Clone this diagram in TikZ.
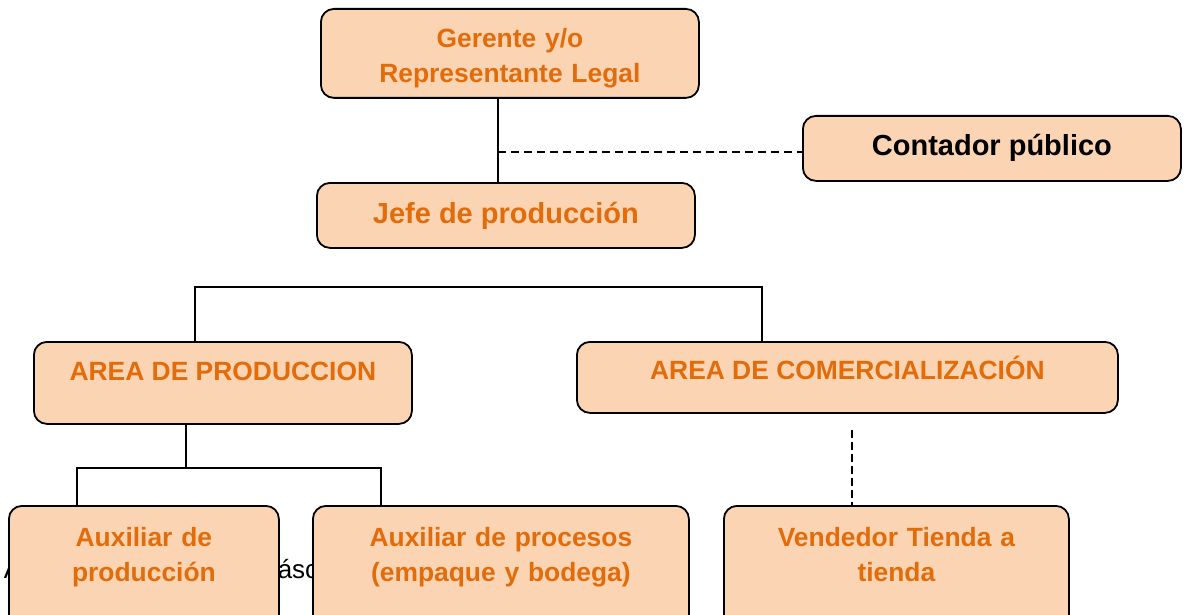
\documentclass[tikz,border=0pt]{standalone}
\usepackage{fontspec}
\setmainfont{Liberation Sans}
\usetikzlibrary{positioning}
\definecolor{boxfill}{HTML}{FBD4B4}
\definecolor{boxtext}{HTML}{E36C0A}
\begin{document}
\begin{tikzpicture}[x=1pt,y=-1pt,line width=1.5pt]
        \tikzset{
            mybox/.style={
                    draw,
                    fill=boxfill,
                    line width=1.8pt,
                    rounded corners=13pt,
                    inner sep=0pt,
                    anchor=north west,
                    align=center,
                    text=boxtext,
                    font=\fontsize{26.4}{35}\selectfont\bfseries
                },
            backtext/.style={
                    anchor=base west,
                    inner sep=0pt,
                    font=\fontsize{26}{30}\selectfont
                }
        }
        \useasboundingbox (0,0) rectangle (1188,615);
        \node[backtext] (fondoA) at (3,578) {A};
        \node[backtext] (fondoB) at (277,578) {ásc};
        \node[mybox,text width=378pt,text height=38.7pt,text depth=50.3pt] (ger) at (320,8) {Gerente y/o\\Representante Legal};
        \node[mybox,text=black,font=\fontsize{29}{34}\selectfont\bfseries,minimum width=378pt,text height=40pt,text depth=25pt] (cont) at (802,115) {Contador público};
        \node[mybox,font=\fontsize{29}{34}\selectfont\bfseries,minimum width=378pt,text height=40.4pt,text depth=24.6pt] (jefe) at (316,182) {Jefe de producción};
        \node[mybox,minimum width=378pt,text height=38.5pt,text depth=43.5pt] (prod) at (33,341) {AREA DE PRODUCCION};
        \node[mybox,minimum width=541pt,text height=38pt,text depth=33pt] (com) at (576,341) {AREA DE COMERCIALIZACIÓN};
        \node[mybox,text width=270pt,text height=41pt,text depth=90pt] (aux1) at (8,505) {Auxiliar de\\producción};
        \node[mybox,text width=376pt,text height=41pt,text depth=90pt] (aux2) at (312,505) {Auxiliar de procesos\\(empaque y bodega)};
        \node[mybox,text width=345pt,text height=41pt,text depth=90pt] (vend) at (723,505) {Vendedor Tienda a\\tienda};
        \path (498,152) coordinate (t1) (195,287) coordinate (b1) (762,287) coordinate (b2)
              (186,468) coordinate (b3) (77,468) coordinate (b4) (381,468) coordinate (b5) (852,430) coordinate (b6);
        \draw (ger.south -| t1) -- (jefe.north -| t1);
        \draw[dash pattern=on 8pt off 5pt] (t1) -- (cont.west |- t1);
        \draw (prod.north -| b1) |- (b2) -- (com.north -| b2);
        \draw (prod.south -| b3) -- (b3);
        \draw (aux1.north -| b4) |- (b5) -- (aux2.north -| b5);
        \draw[dash pattern=on 8pt off 4pt] (b6) -- (vend.north -| b6);
        % \draw (jefe.south) -- (jefe.south |- b1);
\end{tikzpicture}
\end{document}
